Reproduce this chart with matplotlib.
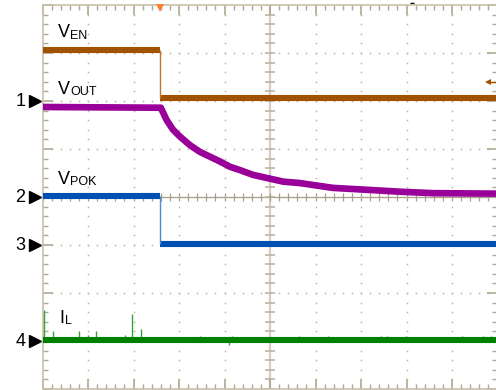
import matplotlib
matplotlib.use("Agg")
import matplotlib.pyplot as plt
import matplotlib.transforms as mtransforms
import numpy as np

plt.rcParams['font.family'] = ['Liberation Sans', 'DejaVu Sans']

# all values in scope divisions (x: 0..10, y: 0..8 from bottom)
t_edge = 2.58
ven_levels = [7.06, 6.06]
pok_levels = [4.02, 3.02]
il_level = 1.02

vout_t = [0.0, 2.60, 2.73, 2.87, 3.02, 3.24, 3.46, 3.68, 3.90, 4.12, 4.34,
          4.63, 5.29, 5.66, 6.38, 7.13, 7.86, 8.58, 10.0]
vout_v = [5.875, 5.86, 5.60, 5.40, 5.26, 5.08, 4.94, 4.84, 4.74, 4.63, 4.56,
          4.46, 4.32, 4.29, 4.19, 4.15, 4.11, 4.08, 4.07]

spike_t = [0.04, 0.24, 0.81, 1.01, 1.18, 1.81, 1.96, 2.16, 3.46, 4.16, 5.64,
           6.27, 7.44, 7.57, 7.99, 9.22, 9.68, 9.86]
spike_top = [1.65, 1.21, 1.21, 1.13, 1.21, 1.13, 1.56, 1.25, 1.10, 1.10, 1.10,
             1.10, 1.10, 1.10, 1.10, 1.10, 1.10, 1.10]

channel_marks = ['1', '2', '3', '4']
channel_pos = [6.0, 4.0, 3.0, 1.0]

labels_main = ['V', 'V', 'V', 'I']
labels_sub = ['EN', 'OUT', 'POK', 'L']
label_x = [0.34, 0.34, 0.34, 0.38]
label_y = [7.33, 6.15, 4.27, 1.375]

c_en = '#A05200'
c_out = '#990099'
c_pok = '#0050B4'
c_il = '#008000'
grid_c = '#BDB5A0'

fig = plt.figure(figsize=(4.96, 3.90), dpi=100)
ax = fig.add_axes([42.5/496, 1/390, 455/496, 384/390])
ax.set_xlim(0, 10)
ax.set_ylim(0, 8)

# graticule
dots = np.arange(0, 10.01, 0.2)
for i in range(1, 10):
    if i == 5:
        continue
    ax.plot([i]*41, np.arange(0, 8.01, 0.2), 's', ms=1.1, color=grid_c, mew=0)
for j in range(1, 8):
    if j == 4:
        continue
    ax.plot(dots, [j]*len(dots), 's', ms=1.1, color=grid_c, mew=0)
ax.axvline(5, color='#D6CFC0', lw=1.6, zorder=1)
ax.axhline(4, color='#A89F88', lw=0.9, zorder=1)
ax.hlines(np.arange(0, 8.01, 0.2), 5-0.11, 5+0.11, color='#BDB5A0', lw=1.2, zorder=1)
ax.vlines(dots, 4-0.085, 4+0.085, color='#A89F88', lw=0.9, zorder=1)

for s in ax.spines.values():
    s.set_color('#C8C0AC')
    s.set_linewidth(1.2)
ax.xaxis.set_major_locator(plt.MultipleLocator(1))
ax.xaxis.set_minor_locator(plt.MultipleLocator(0.2))
ax.yaxis.set_major_locator(plt.MultipleLocator(1))
ax.yaxis.set_minor_locator(plt.MultipleLocator(0.2))
ax.tick_params(which='both', direction='in', top=True, right=True,
               labelbottom=False, labelleft=False, color='#B0A890')
ax.tick_params(which='major', length=7, width=1.2)
ax.tick_params(which='minor', length=3.5, width=1)

# traces
lw = 4.4
ax.hlines(ven_levels[0], 0, t_edge, color=c_en, lw=lw, zorder=4)
ax.hlines(ven_levels[1], t_edge, 10, color=c_en, lw=lw, zorder=4)
ax.vlines(t_edge, ven_levels[1], ven_levels[0], color='#C07830', lw=1, zorder=4)

ax.plot(vout_t, vout_v, color=c_out, lw=4.8, zorder=3, solid_capstyle='butt')

ax.hlines(pok_levels[0], 0, t_edge, color=c_pok, lw=lw, zorder=4)
ax.hlines(pok_levels[1], t_edge, 10, color=c_pok, lw=lw, zorder=4)
ax.vlines(t_edge, pok_levels[1], pok_levels[0], color='#4A88D8', lw=1, zorder=4)

ax.vlines(spike_t, il_level, spike_top, color='#38A038', lw=1, zorder=3)
ax.vlines(4.09, 0.92, il_level, color='#38A038', lw=1, zorder=3)
ax.hlines(il_level, 0, 10, color=c_il, lw=lw, zorder=4)

# channel markers on the left
for m, y in zip(channel_marks, channel_pos):
    ax.text(-0.49, y, m, fontsize=13, ha='center', va='center', clip_on=False)
    ax.plot(-0.17, y, '>', ms=9, color='black', clip_on=False)

# trace labels
for mn, sb, x, y in zip(labels_main, labels_sub, label_x, label_y):
    ax.text(x, y, mn, fontsize=13, va='baseline')
    w = 12.2 if mn == 'V' else 5.5
    tr = mtransforms.offset_copy(ax.transData, fig=fig, x=w*0.72, y=-1.0, units='points')
    ax.text(x, y, sb, fontsize=9, va='baseline', transform=tr)

# trigger marks
ax.plot(t_edge, 7.93, 'v', ms=6, color='#FF8030', mew=0, clip_on=False, zorder=6)
ax.plot([9.77, 9.97], [6.40, 6.40], color=c_en, lw=1, clip_on=False)
ax.plot(9.79, 6.40, '<', ms=5, color=c_en, mew=0, clip_on=False)
ax.plot(8.12, 8.04, '_', ms=3, color='black', clip_on=False)

fig.savefig('out.png', dpi=100)
